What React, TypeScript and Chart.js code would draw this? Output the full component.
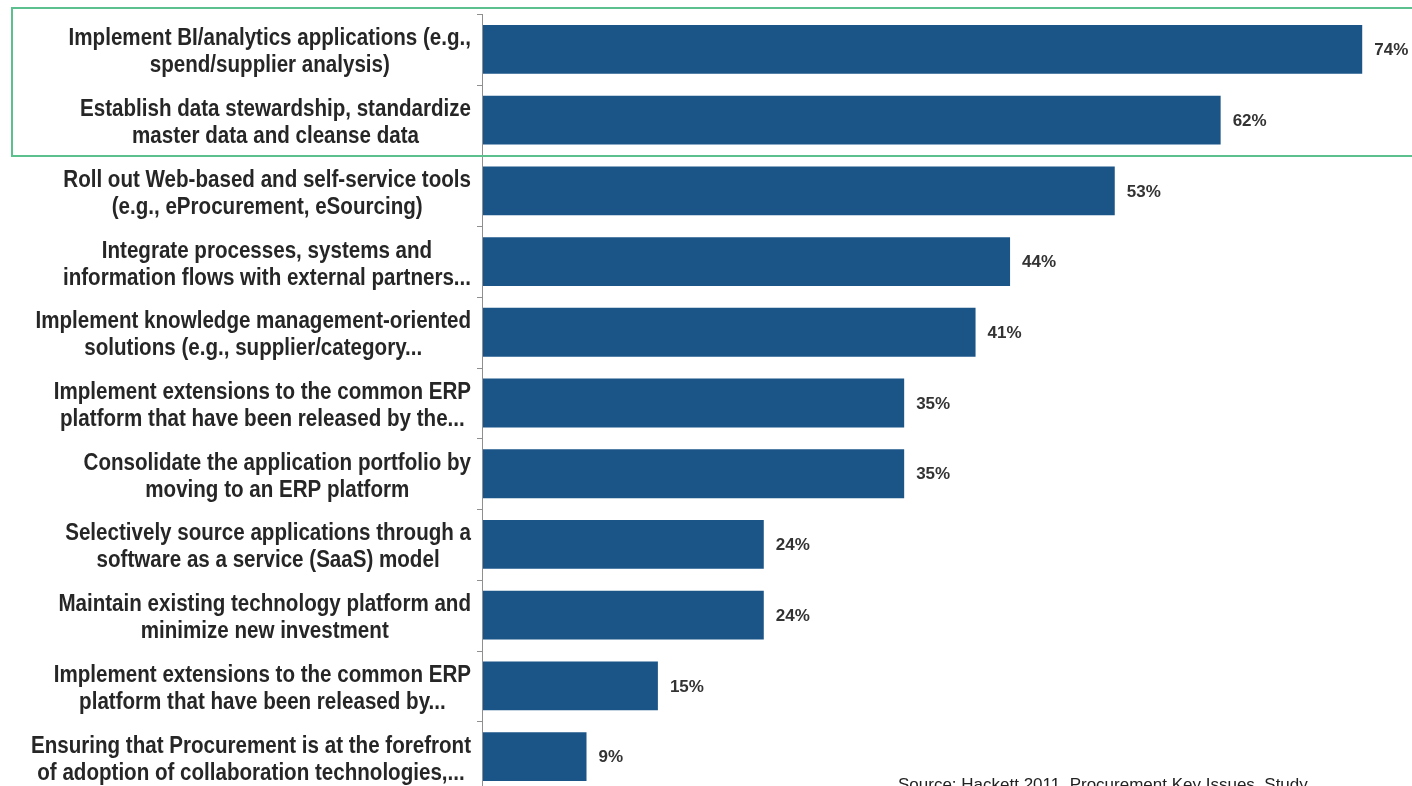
import React, { useEffect, useRef } from "react";
import { Chart, registerables } from "chart.js";

Chart.register(...registerables);

const categories: string[][] = [
  ["Implement BI/analytics applications (e.g.,", "spend/supplier analysis)"],
  ["Establish data stewardship, standardize", "master data and cleanse data"],
  ["Roll out Web-based and self-service tools", "(e.g., eProcurement, eSourcing)"],
  ["Integrate processes, systems and", "information flows with external partners..."],
  ["Implement knowledge management-oriented", "solutions (e.g., supplier/category..."],
  ["Implement extensions to the common ERP", "platform that have been released by the..."],
  ["Consolidate the application portfolio by", "moving to an ERP platform"],
  ["Selectively source applications through a", "software as a service (SaaS) model"],
  ["Maintain existing technology platform and", "minimize new investment"],
  ["Implement extensions to the common ERP", "platform that have been released by..."],
  ["Ensuring that Procurement is at the forefront", "of adoption of collaboration technologies,..."],
];
// bar lengths (labels are the rounded percentages)
const values: number[] = [73.9, 62.0, 53.1, 44.3, 41.4, 35.4, 35.4, 23.6, 23.6, 14.7, 8.7];
const valueLabels: string[] = ["74%", "62%", "53%", "44%", "41%", "35%", "35%", "24%", "24%", "15%", "9%"];
const sourceNote = "Source: Hackett 2011  Procurement Key Issues  Study";
const xMax = 78;

const BAR_COLOR = "#1b5588";
const TEXT_COLOR = "#262626";
const AXIS_COLOR = "#8f8f8f";
const HIGHLIGHT_COLOR = "#5cc08e";
const LABEL_SCALE_X = 0.86;

const overlayPlugin = {
  id: "overlay",
  afterDraw(chart: any) {
    const ctx: CanvasRenderingContext2D = chart.ctx;
    const area = chart.chartArea;
    const yScale = chart.scales.y;
    const xScale = chart.scales.x;
    const n = categories.length;
    const pitch = (area.bottom - area.top) / n;
    ctx.save();

    // axis line + ticks
    ctx.strokeStyle = AXIS_COLOR;
    ctx.lineWidth = 1;
    ctx.beginPath();
    ctx.moveTo(area.left - 0.5, area.top);
    ctx.lineTo(area.left - 0.5, area.bottom);
    for (let i = 0; i <= n; i++) {
      const y = Math.round(area.top + i * pitch) + 0.5;
      ctx.moveTo(area.left - 6, y);
      ctx.lineTo(area.left - 0.5, y);
    }
    ctx.stroke();

    // category labels (each block right-aligned, lines centred within it)
    ctx.fillStyle = TEXT_COLOR;
    ctx.textBaseline = "alphabetic";
    ctx.textAlign = "center";
    ctx.font = "bold 23px 'Liberation Sans', Arial, sans-serif";
    const blockRight = 471;
    categories.forEach((lines, i) => {
      const yc = yScale.getPixelForValue(i);
      const widths = lines.map((l) => ctx.measureText(l).width * LABEL_SCALE_X * 1.04);
      const bw = Math.max(...widths);
      const cx = blockRight - bw / 2;
      lines.forEach((l, j) => {
        const y = yc - 4 + j * 27;
        ctx.save();
        ctx.translate(cx, y);
        ctx.scale(LABEL_SCALE_X * 1.04, 1);
        ctx.fillText(l, 0, 0);
        ctx.restore();
      });
    });

    // value labels
    ctx.textAlign = "left";
    ctx.textBaseline = "middle";
    ctx.font = "bold 17px 'Liberation Sans', Arial, sans-serif";
    ctx.fillStyle = "#333333";
    values.forEach((v, i) => {
      const x = xScale.getPixelForValue(v) + 12;
      const y = yScale.getPixelForValue(i) + 1;
      ctx.fillText(valueLabels[i], x, y);
    });

    // highlight rectangle
    ctx.strokeStyle = HIGHLIGHT_COLOR;
    ctx.lineWidth = 2;
    ctx.strokeRect(12, 8, 1420, 148);

    // source note (cut at the bottom edge)
    ctx.fillStyle = "#222222";
    ctx.font = "17px 'Liberation Sans', Arial, sans-serif";
    ctx.textBaseline = "top";
    ctx.fillText(sourceNote, 898, 777);

    ctx.restore();
  },
};

export default function App() {
  const ref = useRef<HTMLCanvasElement | null>(null);

  useEffect(() => {
    if (!ref.current) return;
    const chart = new Chart(ref.current, {
      type: "bar",
      data: {
        labels: categories.map((c) => c.join(" ")),
        datasets: [
          {
            data: values,
            backgroundColor: BAR_COLOR,
            borderWidth: 0,
            categoryPercentage: 1,
            barPercentage: 0.69,
          },
        ],
      },
      options: {
        indexAxis: "y",
        responsive: false,
        animation: false,
        layout: { padding: { left: 483, top: 14, right: 1, bottom: 0 } },
        plugins: {
          legend: { display: false },
          tooltip: { enabled: false },
        },
        scales: {
          x: { display: false, min: 0, max: xMax },
          y: { display: false },
        },
      },
      plugins: [overlayPlugin],
    });
    return () => chart.destroy();
  }, []);

  return (
    <div
      style={{
        position: "fixed",
        left: 0,
        top: 0,
        width: 1412,
        height: 786,
        overflow: "hidden",
        background: "#ffffff",
      }}
    >
      <canvas ref={ref} width={1412} height={792} style={{ display: "block" }} />
    </div>
  );
}
